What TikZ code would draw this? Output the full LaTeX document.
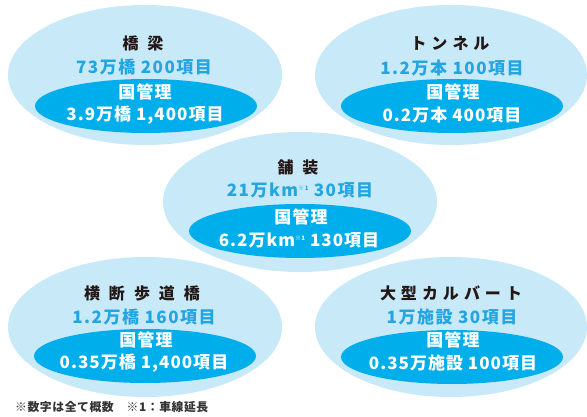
\documentclass[tikz,border=0pt]{standalone}
\usepackage{fontspec}
\setmainfont{Noto Sans CJK JP}
\newfontfamily\numfont[LetterSpace=9]{Noto Sans CJK JP}
\newfontfamily\whitefont[LetterSpace=6]{Noto Sans CJK JP}
\newfontfamily\notefont[LetterSpace=5]{Noto Sans CJK JP}
\definecolor{outerblue}{HTML}{C8E9F8}
\definecolor{innerblue}{HTML}{00AEEC}
\definecolor{numblue}{HTML}{23A5E1}
\definecolor{titledark}{HTML}{231815}
\definecolor{notegray}{HTML}{333333}
\newcommand{\ks}{\hspace{9pt}}
\newcommand{\kk}{\hspace{5pt}}
\newcommand{\sone}{\raisebox{6pt}{\fontsize{6}{6}\selectfont ※1}}
\begin{document}
\begin{tikzpicture}[x=1pt,y=-1pt,
  outerell/.style={fill=outerblue,draw=none},
  innerell/.style={fill=innerblue,draw=none},
  title/.style={inner sep=0pt,text=titledark,font=\fontsize{16}{16}\selectfont\bfseries},
  numline/.style={inner sep=0pt,text=numblue,font=\fontsize{17}{17}\selectfont\numfont\bfseries},
  whiteline/.style={inner sep=0pt,text=white,font=\fontsize{17}{17}\selectfont\whitefont\bfseries},
  note/.style={inner sep=0pt,anchor=west,text=notegray,font=\fontsize{11.8}{11.8}\selectfont\notefont\bfseries}]
\useasboundingbox (0,0) rectangle (587,417);
% outer ellipses
\fill[outerell] (145,75) ellipse [x radius=137, y radius=70];
\fill[outerell] (451,75) ellipse [x radius=136, y radius=70];
\fill[outerell] (300,202) ellipse [x radius=137, y radius=70];
\fill[outerell] (145,327) ellipse [x radius=137, y radius=70];
\fill[outerell] (451,327) ellipse [x radius=136, y radius=70];
% inner ellipses
\fill[innerell] (146,106) ellipse [x radius=111, y radius=27];
\fill[innerell] (452,106) ellipse [x radius=111, y radius=27];
\fill[innerell] (300,231) ellipse [x radius=111, y radius=27];
\fill[innerell] (145,356) ellipse [x radius=111, y radius=27];
\fill[innerell] (452,357) ellipse [x radius=111, y radius=27];
% top-left
\node[title] (t1) at (143,43) {橋\ks 梁};
\node[numline] (n1) at (144,67) {73万橋 200項目};
\node[whiteline] (g1) at (145,92) {国管理};
\node[whiteline] (w1) at (145,115) {3.9万橋 1,400項目};
% top-right
\node[title] (t2) at (450,43) {ト\kk ン\kk ネ\kk ル};
\node[numline] (n2) at (452,68) {1.2万本 100項目};
\node[whiteline] (g2) at (453,92) {国管理};
\node[whiteline] (w2) at (452,115) {0.2万本 400項目};
% middle
\node[title] (t3) at (298,167) {舗\ks 装};
\node[numline] (n3) at (300,190) {21万km\sone\ 30項目};
\node[whiteline] (g3) at (301,217) {国管理};
\node[whiteline] (w3) at (299,240) {6.2万km\sone\ 130項目};
% bottom-left
\node[title] (t4) at (142,293) {横\ks 断\ks 歩\ks 道\ks 橋};
\node[numline] (n4) at (144,317) {1.2万橋 160項目};
\node[whiteline] (g4) at (146,340) {国管理};
\node[whiteline] (w4) at (144,363) {0.35万橋 1,400項目};
% bottom-right
\node[title] (t5) at (451,293) {大\kk 型\kk カ\kk ル\kk バ\kk ー\kk ト};
\node[numline] (n5) at (452,317) {1万施設 30項目};
\node[whiteline] (g5) at (453,340) {国管理};
\node[whiteline] (w5) at (453,363) {0.35万施設 100項目};
% footnote
\node[note] (fn) at (15,407) {※数字は全て概数　※1：車線延長};
\end{tikzpicture}
\end{document}
